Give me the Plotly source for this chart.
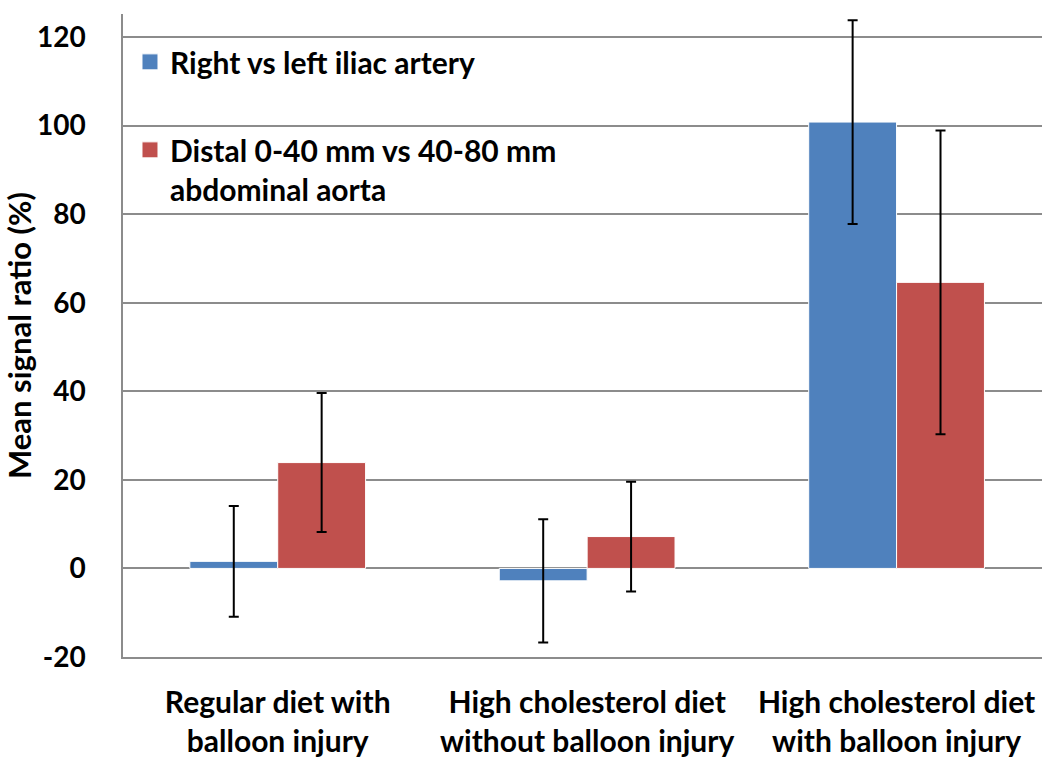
import plotly.graph_objects as go

# Groups and series
groups = ["Regular diet with<br>balloon injury",
          "High cholesterol diet<br>without balloon injury",
          "High cholesterol diet<br>with balloon injury"]
iliac_mean = [1.6, -2.8, 100.8]
iliac_err = [12.5, 13.9, 23.0]
aorta_mean = [23.9, 7.2, 64.6]
aorta_err = [15.7, 12.4, 34.3]
series_names = ["Right vs left iliac artery",
                "Distal 0-40 mm vs 40-80 mm<br>abdominal aorta"]
y_ticks = [-20, 0, 20, 40, 60, 80, 100, 120]
y_tick_text = ["-20", "0", "20", "40", "60", "80", "100", "120"]

FONT = "Lato, Arial, sans-serif"
BLUE = "#4F81BD"
RED = "#C0504D"
GRID = "#8C8C8C"

fig = go.Figure()
for name, mean, err, color, grp in [
    (series_names[0], iliac_mean, iliac_err, BLUE, "a"),
    (series_names[1], aorta_mean, aorta_err, RED, "b"),
]:
    fig.add_trace(go.Bar(
        x=groups, y=mean, name=name, legendgroup=grp, showlegend=False,
        marker=dict(color=color, line=dict(color="white", width=1)),
        error_y=dict(type="data", array=err, visible=True,
                     color="black", thickness=2, width=5),
    ))
    # legend key: a larger square swatch for the series
    fig.add_trace(go.Scatter(
        x=[None], y=[None], mode="markers", name=name, legendgroup=grp,
        marker=dict(symbol="square", size=18, color=color,
                    line=dict(color="white", width=1)),
    ))

fig.update_layout(
    width=1042, height=757,
    margin=dict(l=123, r=0, t=14, b=100),
    paper_bgcolor="white", plot_bgcolor="white",
    barmode="group", bargap=0.432, bargroupgap=0,
    font=dict(family=FONT, color="black", size=26),
    legend=dict(x=0.0076, y=0.966, xanchor="left", yanchor="top",
                bgcolor="rgba(0,0,0,0)", tracegroupgap=46, valign="top",
                itemsizing="trace", itemwidth=30,
                font=dict(family=FONT, size=30, color="black", weight="bold")),
)
fig.update_xaxes(
    range=[-0.5, 2.47], showgrid=False, zeroline=False, automargin=False,
    showline=True, linecolor=GRID, linewidth=1.5,
    ticks="", ticklabelstandoff=18,
    tickfont=dict(family=FONT, size=30, color="black", weight="bold"),
)
fig.update_yaxes(
    range=[-20, 125.2], tickvals=y_ticks, ticktext=y_tick_text, showgrid=True,
    gridcolor=GRID, gridwidth=1.5, zeroline=True, automargin=True,
    zerolinecolor=GRID, zerolinewidth=1.5,
    showline=True, linecolor=GRID, linewidth=1.5,
    ticks="", ticklabelstandoff=30,
    tickfont=dict(family=FONT, size=28, color="black", weight="bold"),
    title=dict(text="Mean signal ratio (%)", standoff=4,
               font=dict(family=FONT, size=31, color="black", weight="bold")),
)

fig.write_html("out.html")
